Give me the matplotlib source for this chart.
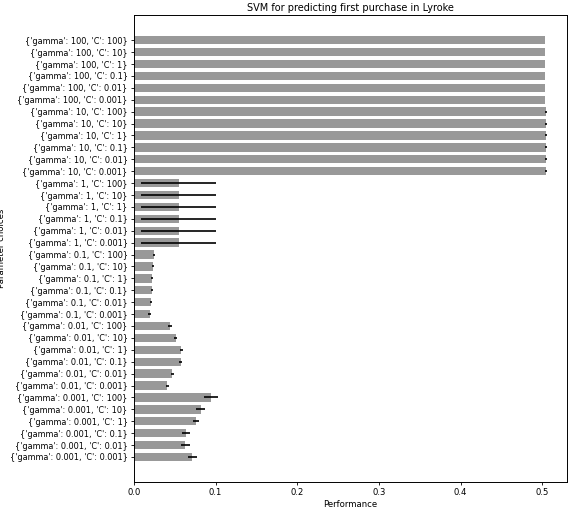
import matplotlib
matplotlib.use('Agg')
import matplotlib.pyplot as plt
import numpy as np

gammas = [100, 10, 1, 0.1, 0.01, 0.001]
cs = [100, 10, 1, 0.1, 0.01, 0.001]

# mean performance per (gamma, C), top to bottom as in the chart
perf_g100 = [0.504, 0.504, 0.504, 0.504, 0.504, 0.504]
perf_g10 = [0.505, 0.505, 0.505, 0.505, 0.505, 0.505]
perf_g1 = [0.055, 0.055, 0.055, 0.055, 0.055, 0.055]
perf_g01 = [0.0245, 0.023, 0.022, 0.022, 0.021, 0.019]
perf_g001 = [0.044, 0.051, 0.058, 0.057, 0.047, 0.041]
perf_g0001 = [0.094, 0.0815, 0.0755, 0.0635, 0.063, 0.0715]

err_g100 = [0, 0, 0, 0, 0, 0]
err_g10 = [0.001, 0.001, 0.001, 0.001, 0.001, 0.001]
err_g1 = [0.046, 0.046, 0.046, 0.046, 0.046, 0.046]
err_g01 = [0.0015, 0.0015, 0.0015, 0.0015, 0.0015, 0.0015]
err_g001 = [0.002, 0.002, 0.002, 0.002, 0.002, 0.002]
err_g0001 = [0.0085, 0.005, 0.0035, 0.0045, 0.0055, 0.0057]

labels = ["{'gamma': %s, 'C': %s}" % (g, c) for g in gammas for c in cs]
perf = perf_g100 + perf_g10 + perf_g1 + perf_g01 + perf_g001 + perf_g0001
errs = err_g100 + err_g10 + err_g1 + err_g01 + err_g001 + err_g0001

fig = plt.figure(figsize=(5.71, 5.14), dpi=100)
ax = fig.add_axes([0.2347, 0.0623, 0.9925 - 0.2347, 0.9704 - 0.0623])

y = np.arange(len(labels))
ax.barh(y, perf, xerr=errs, height=0.7, color='#999999',
        error_kw=dict(ecolor='black', elinewidth=1.2, capsize=0))
ax.set_yticks(y)
ax.set_yticklabels(labels, fontsize=5.9)
ax.set_ylim(len(labels) + 1.1, -2.1)
ax.set_xlim(0, 0.53)
ax.tick_params(axis='both', length=2.3, pad=2.3, width=0.6)
ax.tick_params(axis='x', labelsize=6.15)
for sp in ax.spines.values():
    sp.set_linewidth(0.7)
ax.set_xlabel('Performance', fontsize=6.15, labelpad=2)
ax.set_ylabel('Parameter choices', fontsize=6.15)
ax.yaxis.set_label_coords(-0.295, 0.5)
ax.set_title('SVM for predicting first purchase in Lyroke', fontsize=7, pad=3)

fig.savefig('out.png', dpi=100)
